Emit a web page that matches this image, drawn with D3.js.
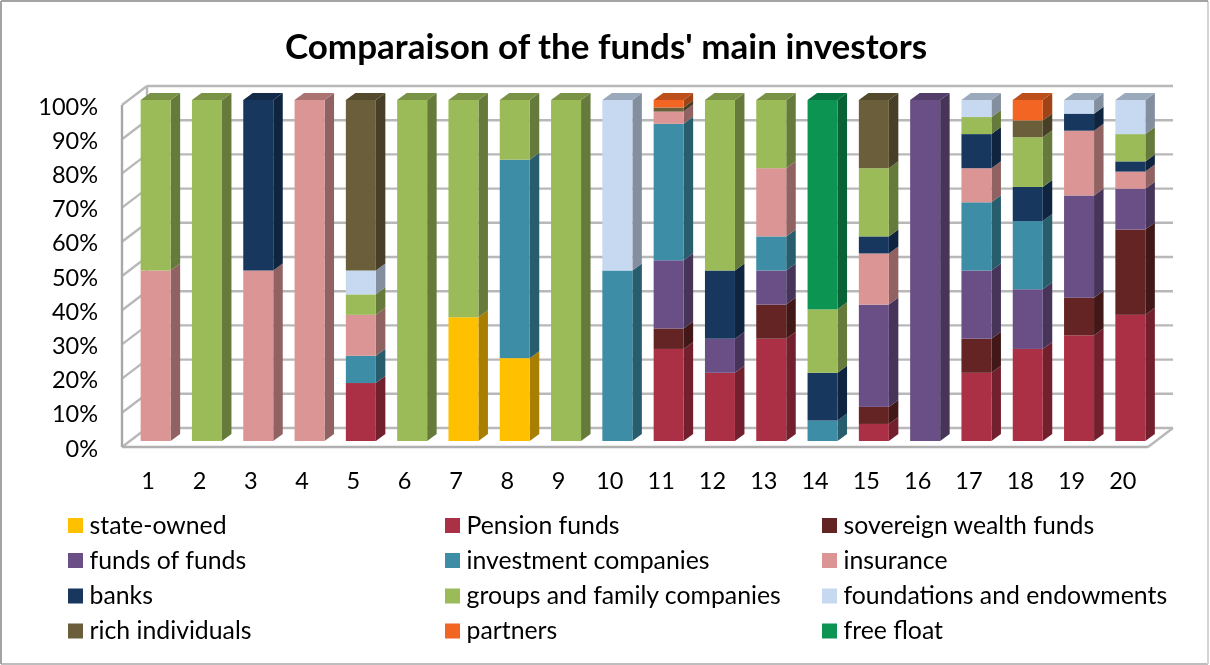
<!DOCTYPE html>
<html><head><meta charset="utf-8">
<script src="https://cdn.jsdelivr.net/npm/d3@7"></script>
<style>
html,body{margin:0;padding:0;background:#fff}
svg{display:block;filter:blur(0.45px)}
text{font-family:Lato,"Noto Sans",sans-serif;fill:#000}
.axis text{font-size:23.5px}
.axis path,.axis line{display:none}
</style></head><body>
<svg id="c" width="1210" height="665"></svg>
<script>
const categories=["1","2","3","4","5","6","7","8","9","10","11","12","13","14","15","16","17","18","19","20"];
const title="Comparaison of the funds' main investors";
const seriesNames=["state-owned","Pension funds","sovereign wealth funds","funds of funds","investment companies","insurance","banks","groups and family companies","foundations and endowments","rich individuals","partners","free float"];
const seriesColors=["#FFC000","#AC3045","#632423","#6A4F87","#3C8DA5","#DB9594","#17375E","#9BBB59","#C6D9F1","#6B5F3B","#F26522","#0C9452"];
const stateOwned=   [0,0,0,0,0,0,36.3,24.3,0,0,0,0,0,0,0,0,0,0,0,0];
const pensionFunds= [0,0,0,0,17,0,0,0,0,0,27,20,30,0,5,0,20,27,31,37];
const sovereign=    [0,0,0,0,0,0,0,0,0,0,6,0,10,0,5,0,10,0,11,25];
const fundsOfFunds= [0,0,0,0,0,0,0,0,0,0,20,10,10,0,30,100,20,17.5,30,12];
const investmentCo= [0,0,0,0,8,0,0,58.2,0,50,40,0,10,6,0,0,20,20,0,0];
const insurance=    [50,0,50,100,12,0,0,0,0,0,3.6,0,20,0,15,0,10,0,19,5];
const banks=        [0,0,50,0,0,0,0,0,0,0,0,20,0,14,5,0,10,10,5,3];
const groupsFamily= [50,100,0,0,6,100,63.7,17.5,100,0,0,50,20,18.6,20,0,5,14.6,0,8];
const foundations=  [0,0,0,0,7,0,0,0,0,50,0,0,0,0,0,0,5,0,4,10];
const richIndiv=    [0,0,0,0,50,0,0,0,0,0,1.2,0,0,0,20,0,0,4.9,0,0];
const partners=     [0,0,0,0,0,0,0,0,0,0,2.2,0,0,0,0,0,0,6,0,0];
const freeFloat=    [0,0,0,0,0,0,0,0,0,0,0,0,0,61.4,0,0,0,0,0,0];
const seriesValues=[stateOwned,pensionFunds,sovereign,fundsOfFunds,investmentCo,insurance,banks,groupsFamily,foundations,richIndiv,partners,freeFloat];
const yTicks=[0,10,20,30,40,50,60,70,80,90,100];

const svg=d3.select("#c");
const M={left:122,right:1148,depthX:25,depthY:19,front0:447,front100:105,bar0:441,bar100:100,barW:30,barDX:9.5,barDY:7};
const frame=svg.append("g").attr("stroke-width",2);
frame.append("line").attr("x1",1).attr("y1",664).attr("x2",1208).attr("y2",664).attr("stroke","#bdbdbd");
frame.append("line").attr("x1",1208).attr("y1",1).attr("x2",1208).attr("y2",664).attr("stroke","#d4d4d4");
frame.append("line").attr("x1",1).attr("y1",1).attr("x2",1208).attr("y2",1).attr("stroke","#a3a3a3");
frame.append("line").attr("x1",1).attr("y1",1).attr("x2",1).attr("y2",664).attr("stroke","#a3a3a3");

svg.append("text").attr("x",606).attr("y",59).attr("text-anchor","middle").attr("font-weight",700).style("font-size","35px").text(title);

const x=d3.scaleBand().domain(categories).range([M.left,M.right]);
const yFront=d3.scaleLinear().domain([0,100]).range([M.front0,M.front100]);
const yBar=d3.scaleLinear().domain([0,100]).range([M.bar0,M.bar100]);
const wall="#b8b8b8";
const g=svg.append("g").attr("fill","none").attr("stroke",wall).attr("stroke-width",2.4);
yTicks.forEach(t=>{
  const yf=yFront(t),yb=yf-M.depthY;
  g.append("line").attr("x1",M.left).attr("y1",yf).attr("x2",M.left+M.depthX).attr("y2",yb);
  g.append("line").attr("x1",M.left+M.depthX).attr("y1",yb).attr("x2",M.right+M.depthX).attr("y2",yb);
});
g.append("line").attr("x1",M.left).attr("y1",yFront(0)).attr("x2",M.left).attr("y2",yFront(100)).attr("stroke","#a8a8a8");
g.append("line").attr("x1",M.left+M.depthX).attr("y1",yFront(0)-M.depthY).attr("x2",M.left+M.depthX).attr("y2",yFront(100)-M.depthY);
g.append("line").attr("x1",M.left).attr("y1",yFront(0)).attr("x2",M.right).attr("y2",yFront(0)).attr("stroke","#b0b0b0").attr("stroke-width",2.6);
g.append("line").attr("x1",M.right).attr("y1",yFront(0)).attr("x2",M.right+M.depthX).attr("y2",yFront(0)-M.depthY);

const rows=categories.map((c,i)=>{const r={cat:c};seriesNames.forEach((n,k)=>r[n]=seriesValues[k][i]);return r;});
const stacked=d3.stack().keys(seriesNames)(rows);
const shade=(hex,f)=>{const c=d3.rgb(hex);return d3.rgb(c.r*f,c.g*f,c.b*f).formatHex();};
const barX=c=>x(c)+(x.bandwidth()-M.barW)/2+8;
const tops=categories.map((c,i)=>d3.max(stacked.filter(s=>s[i][1]-s[i][0]>0),s=>s.index));

stacked.forEach((s,k)=>{
  const col=seriesColors[k];
  const gs=svg.append("g").attr("class","series");
  s.forEach((d,i)=>{
    if(d[1]-d[0]<=0)return;
    const c=categories[i],x0=barX(c),x1=x0+M.barW,y0=yBar(d[0]),y1=yBar(d[1]);
    gs.append("path").attr("fill",shade(col,0.66))
      .attr("d",`M${x1},${y0}L${x1+M.barDX},${y0-M.barDY}L${x1+M.barDX},${y1-M.barDY}L${x1},${y1}Z`);
    if(tops[i]===k)gs.append("path").attr("fill",shade(col,0.78))
      .attr("d",`M${x0},${y1}L${x0+M.barDX},${y1-M.barDY}L${x1+M.barDX},${y1-M.barDY}L${x1},${y1}Z`);
    gs.append("rect").attr("x",x0).attr("y",y1).attr("width",M.barW).attr("height",y0-y1).attr("fill",col);
  });
});

svg.append("g").attr("class","axis").attr("transform","translate(98,1.5)")
  .call(d3.axisLeft(yFront).tickValues(yTicks).tickSize(0).tickPadding(0).tickFormat(d=>d+"%"));
svg.append("g").attr("class","axis").attr("transform","translate(0.5,472)")
  .call(d3.axisBottom(x).tickSize(0).tickPadding(0));

const legendCols=[68,445,822],legendRows=[525.5,560.5,596,631];
seriesNames.forEach((n,k)=>{
  const cx=legendCols[k%3],cy=legendRows[Math.floor(k/3)];
  svg.append("rect").attr("x",cx).attr("y",cy-7.5).attr("width",15).attr("height",15).attr("fill",seriesColors[k]);
  svg.append("text").attr("x",cx+21.5).attr("y",cy+8).style("font-size","24.8px").text(n);
});
</script></body></html>
